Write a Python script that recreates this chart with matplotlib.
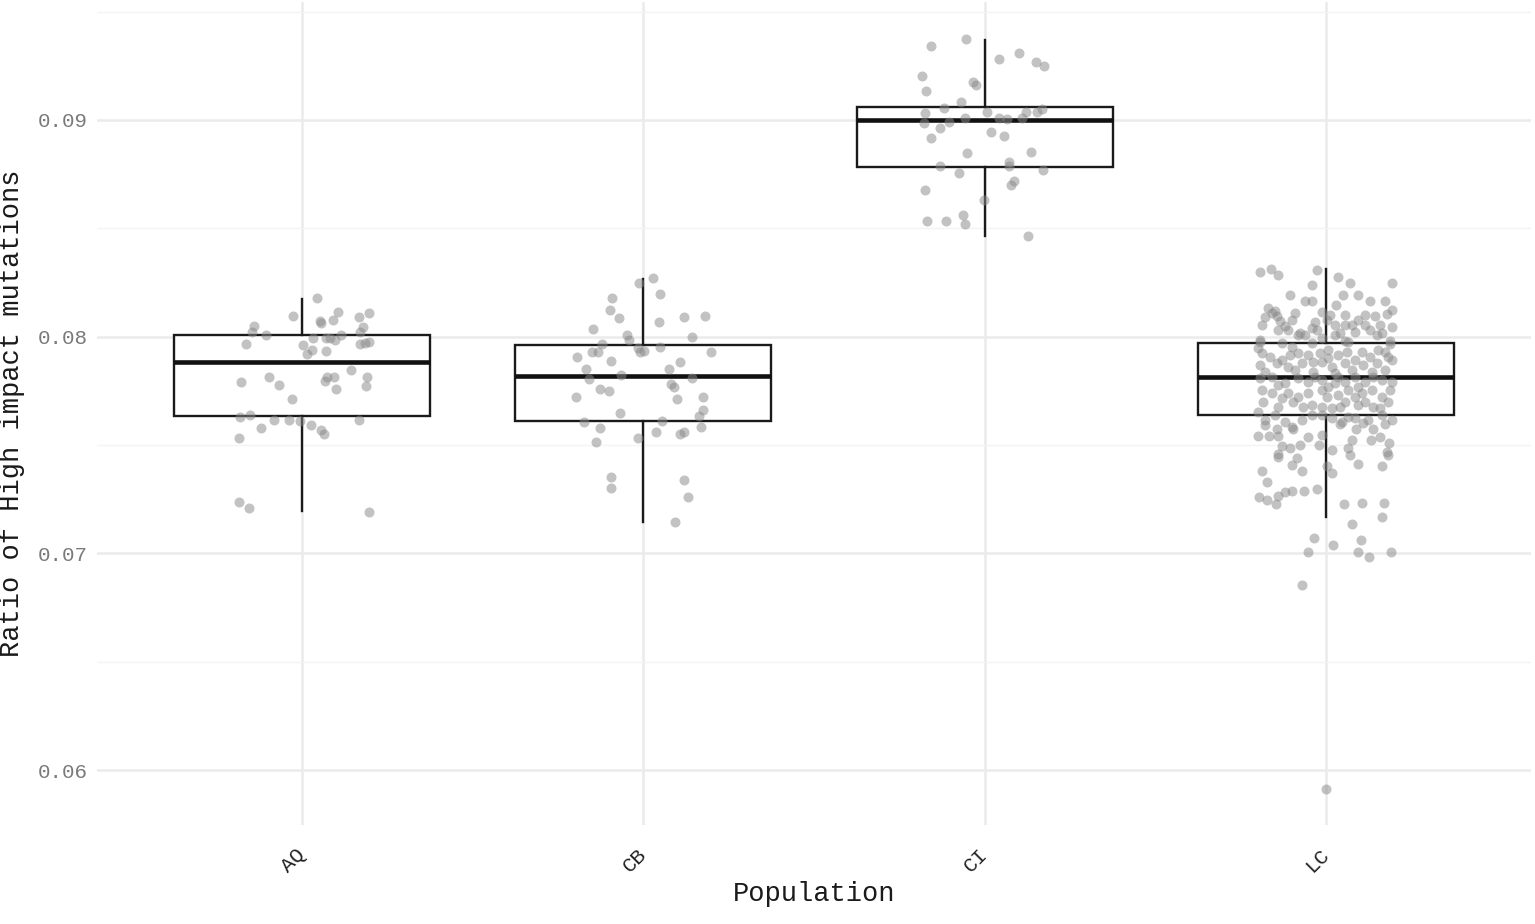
import matplotlib
matplotlib.use('Agg')
import matplotlib.pyplot as plt

# populations and the box summaries
populations = ['AQ', 'CB', 'CI', 'LC']
box_low = [0.07196, 0.07145, 0.08465, 0.07168]
box_q1 = [0.07635, 0.07611, 0.08785, 0.07639]
box_med = [0.07883, 0.07819, 0.09000, 0.07814]
box_q3 = [0.08008, 0.07962, 0.09061, 0.07971]
box_high = [0.08174, 0.08266, 0.09369, 0.08312]

# individual samples (ratio) and their horizontal jitter
aq_values = [0.08177, 0.08096, 0.08072, 0.08065, 0.08078, 0.08115, 0.08090, 0.08111, 0.08046, 0.08023,
             0.08048, 0.08023, 0.08008, 0.07966, 0.07995, 0.07993, 0.07993, 0.07985, 0.08008, 0.07960,
             0.07937, 0.07920, 0.07935, 0.07965, 0.07970, 0.07974, 0.07791, 0.07815, 0.07777, 0.07794,
             0.07815, 0.07815, 0.07760, 0.07845, 0.07813, 0.07774, 0.07713, 0.07631, 0.07639, 0.07580,
             0.07616, 0.07616, 0.07611, 0.07593, 0.07568, 0.07550, 0.07616, 0.07531, 0.07237, 0.07211, 0.07192]
aq_jitter = [0.045, -0.027, 0.053, 0.055, 0.091, 0.105, 0.167, 0.197, 0.178, 0.170,
             -0.141, -0.147, -0.106, -0.165, 0.033, 0.070, 0.082, 0.097, 0.114, 0.003,
             0.030, 0.016, 0.071, 0.170, 0.185, 0.196, -0.179, -0.097, -0.067, 0.067,
             0.072, 0.094, 0.100, 0.144, 0.190, 0.187, -0.030, -0.182, -0.152, -0.119,
             -0.081, -0.038, -0.006, 0.026, 0.055, 0.065, 0.166, -0.184, -0.184, -0.155, 0.197]

cb_values = [0.08246, 0.08269, 0.08196, 0.08180, 0.08123, 0.08085, 0.08069, 0.08092, 0.08097, 0.08034,
             0.08008, 0.07985, 0.08000, 0.07966, 0.07905, 0.07928, 0.07928, 0.07946, 0.07928, 0.07934,
             0.07954, 0.07928, 0.07888, 0.07883, 0.07851, 0.07803, 0.07823, 0.07851, 0.07808, 0.07782,
             0.07769, 0.07759, 0.07749, 0.07723, 0.07713, 0.07722, 0.07646, 0.07660, 0.07635, 0.07605,
             0.07580, 0.07611, 0.07583, 0.07531, 0.07562, 0.07551, 0.07562, 0.07513, 0.07353, 0.07300,
             0.07339, 0.07262, 0.07144]
cb_jitter = [-0.012, 0.027, 0.050, -0.092, -0.097, -0.070, 0.045, 0.120, 0.180, -0.146,
             -0.047, -0.043, 0.143, -0.121, -0.194, -0.149, -0.133, -0.017, -0.009, 0.003,
             0.050, 0.198, -0.095, 0.106, -0.168, -0.158, -0.064, 0.076, 0.144, 0.082,
             0.089, -0.128, -0.102, -0.197, 0.100, 0.174, -0.067, 0.174, 0.162, -0.174,
             -0.126, 0.055, 0.168, -0.016, 0.038, 0.108, 0.118, -0.138, -0.095, -0.095,
             0.118, 0.131, 0.092]

ci_values = [0.09372, 0.09341, 0.09280, 0.09311, 0.09269, 0.09249, 0.09204, 0.09135, 0.09177, 0.09163,
             0.09084, 0.09057, 0.09031, 0.08985, 0.08962, 0.08989, 0.09008, 0.09038, 0.09008, 0.09003,
             0.09008, 0.09038, 0.09038, 0.09051, 0.08916, 0.08943, 0.08926, 0.08849, 0.08851, 0.08789,
             0.08754, 0.08808, 0.08788, 0.08769, 0.08718, 0.08700, 0.08677, 0.08631, 0.08562, 0.08520,
             0.08535, 0.08535, 0.08465]
ci_jitter = [-0.054, -0.156, 0.042, 0.100, 0.149, 0.174, -0.184, -0.171, -0.034, -0.026,
             -0.070, -0.119, -0.174, -0.178, -0.132, -0.105, -0.059, 0.008, 0.041, 0.064,
             0.109, 0.122, 0.154, 0.169, -0.156, 0.020, 0.056, -0.051, 0.135, -0.132,
             -0.076, 0.071, 0.071, 0.171, 0.086, 0.076, -0.174, -0.003, -0.064, -0.059,
             -0.168, -0.112, 0.127]

lc_values = [
    # upper whisker region
    0.08299, 0.08314, 0.08283, 0.08307, 0.08274, 0.08248, 0.08248, 0.08240, 0.08194, 0.08166,
    0.08166, 0.08191, 0.08194, 0.08163, 0.08166, 0.08132, 0.08117, 0.08094, 0.08090, 0.08109,
    0.08078, 0.08114, 0.08145, 0.08099, 0.08102, 0.08125, 0.08105, 0.08094, 0.08078, 0.08055,
    0.08032, 0.08032, 0.08009, 0.08068, 0.08032, 0.08102, 0.08055, 0.08017, 0.08055, 0.08022,
    0.08032, 0.08055, 0.08043, 0.07986, 0.08006, 0.07979, 0.08009, 0.07979, 0.07994,
    0.08109, 0.08071, 0.08078, 0.08017, 0.08048, 0.08040, 0.08055, 0.08055, 0.08017, 0.08009,
    # inside the box
    0.07977, 0.07970, 0.07970, 0.07977, 0.07966,
    0.07923, 0.07908, 0.07916, 0.07923, 0.07916, 0.07923, 0.07939, 0.07916, 0.07931, 0.07931,
    0.07908, 0.07939, 0.07908,
    0.07869, 0.07877, 0.07862, 0.07877, 0.07885, 0.07862, 0.07877, 0.07846, 0.07869, 0.07877,
    0.07893, 0.07838, 0.07846, 0.07838, 0.07834, 0.07838,
    0.07815, 0.07785, 0.07808, 0.07800, 0.07769, 0.07792, 0.07815, 0.07792, 0.07800, 0.07792, 0.07792,
    0.07754, 0.07739, 0.07739, 0.07723, 0.07739, 0.07754, 0.07731, 0.07754, 0.07739, 0.07754,
    0.07754, 0.07723,
    0.07700, 0.07677, 0.07700, 0.07685, 0.07677, 0.07670, 0.07700, 0.07685, 0.07677, 0.07700, 0.07700,
    0.07616, 0.07639, 0.07608, 0.07616, 0.07639, 0.07624, 0.07608, 0.07624, 0.07616, 0.07639,
    0.07616, 0.07582,
    0.07946, 0.07954, 0.07900, 0.07931, 0.07893, 0.07885, 0.07893, 0.07846, 0.07808, 0.07815,
    0.07815, 0.07815, 0.07777, 0.07785, 0.07769, 0.07716, 0.07723, 0.07723, 0.07677, 0.07677,
    0.07670, 0.07654, 0.07639, 0.07631,
    # lower whisker region
    0.07542, 0.07542, 0.07542, 0.07591, 0.07573, 0.07573, 0.07537, 0.07545, 0.07502, 0.07502,
    0.07496, 0.07486, 0.07460, 0.07445, 0.07440, 0.07407, 0.07379, 0.07382, 0.07330, 0.07476,
    0.07403, 0.07370, 0.07486, 0.07453, 0.07522, 0.07414, 0.07576, 0.07576, 0.07522, 0.07537,
    0.07511, 0.07468, 0.07453, 0.07402, 0.07599, 0.07603, 0.07599,
    0.07260, 0.07245, 0.07229, 0.07265, 0.07283, 0.07288, 0.07288, 0.07296, 0.07229, 0.07234, 0.07234,
    0.07167, 0.07136, 0.07071, 0.07040, 0.07062, 0.07008, 0.07005, 0.06985, 0.07007, 0.06854, 0.05913]
lc_jitter = [
    -0.193, -0.161, -0.140, -0.027, 0.034, 0.070, 0.192, -0.042, -0.105, -0.062,
    -0.042, 0.051, 0.093, 0.129, 0.173, -0.171, -0.149, -0.144, -0.179, -0.091,
    -0.100, -0.013, 0.028, 0.056, 0.114, 0.194, 0.178, 0.144, 0.095, -0.187,
    -0.140, -0.110, -0.062, -0.032, -0.027, 0.012, 0.026, 0.041, 0.075, 0.085,
    0.129, 0.158, 0.192, -0.193, -0.081, 0.188, 0.149, 0.056, -0.013,
    -0.159, -0.135, 0.002, 0.163, -0.120, -0.042, 0.056, 0.114, -0.076, 0.026,
    -0.193, -0.130, -0.042, 0.065, 0.188,
    -0.188, -0.164, -0.105, -0.081, -0.052, -0.018, 0.007, 0.036, 0.061, 0.105,
    0.129, 0.153, 0.183,
    -0.193, -0.144, -0.110, -0.071, -0.013, 0.017, 0.056, 0.075, 0.109, 0.149,
    0.192, -0.179, -0.091, -0.037, 0.026, 0.134,
    -0.159, -0.120, -0.081, -0.013, 0.007, 0.056, 0.085, 0.114, 0.163, 0.192, -0.052,
    -0.188, -0.159, -0.110, -0.081, -0.052, -0.013, 0.036, 0.065, 0.105, 0.134,
    0.188, 0.163,
    -0.184, -0.140, -0.096, -0.042, -0.013, 0.017, 0.056, 0.095, 0.139, 0.183, 0.114,
    -0.179, -0.149, -0.120, -0.071, -0.042, 0.017, 0.046, 0.085, 0.124, 0.163,
    0.192, -0.100,
    -0.198, -0.100, 0.007, 0.173, -0.130, -0.037, 0.085, 0.173, -0.193, -0.032,
    0.036, 0.139, -0.140, 0.026, 0.095, -0.130, 0.002, 0.085, -0.066, 0.041,
    0.158, -0.198, -0.013, 0.065,
    -0.198, -0.167, -0.140, -0.179, -0.144, -0.096, -0.052, -0.011, -0.021, -0.076,
    -0.130, -0.105, -0.140, -0.142, -0.086, -0.100, -0.071, -0.187, -0.174, 0.017,
    0.002, 0.018, 0.064, 0.070, 0.077, 0.095, 0.087, 0.139, 0.132, 0.158,
    0.185, 0.178, 0.181, 0.165, 0.173, 0.109, 0.041,
    -0.196, -0.174, -0.147, -0.140, -0.120, -0.100, -0.064, -0.027, 0.054, 0.106, 0.171,
    0.165, 0.075, -0.034, 0.021, 0.103, -0.052, 0.095, 0.126, 0.190, -0.069, 0.0]

samples = [(aq_values, aq_jitter), (cb_values, cb_jitter), (ci_values, ci_jitter), (lc_values, lc_jitter)]

plt.rcParams['font.family'] = ['Liberation Mono', 'DejaVu Sans Mono']

fig = plt.figure(figsize=(15.35, 9.24), dpi=100)
ax = fig.add_axes([97.2 / 1535, 1 - 825 / 924, 1433.6 / 1535, 823 / 924])

positions = list(range(1, len(populations) + 1))

# boxes from the summary numbers
stats = []
for i in range(len(populations)):
    stats.append({'whislo': box_low[i], 'q1': box_q1[i], 'med': box_med[i],
                  'q3': box_q3[i], 'whishi': box_high[i], 'fliers': []})
ax.bxp(stats, positions=positions, widths=0.75, showfliers=False, showcaps=False,
       patch_artist=True,
       boxprops=dict(facecolor='white', edgecolor='#1a1a1a', linewidth=1.7),
       medianprops=dict(color='#111111', linewidth=3.3),
       whiskerprops=dict(color='#1a1a1a', linewidth=1.7),
       zorder=2)

# jittered points on top
for pos, (vals, jit) in zip(positions, samples):
    xs = [pos + j for j in jit]
    ax.scatter(xs, vals, s=52, color='#8a8a8a', alpha=0.52, linewidths=0, zorder=3)

ax.set_xlim(0.4, 4.6)
ax.set_ylim(0.057467, 0.095445)
ax.set_yticks([0.06, 0.07, 0.08, 0.09])
ax.set_yticklabels(['0.06', '0.07', '0.08', '0.09'])
ax.set_yticks([0.065, 0.075, 0.085, 0.095], minor=True)
ax.set_xticks(positions)
ax.set_xticklabels(populations, rotation=45, ha='right', va='center', rotation_mode='anchor')

ax.grid(True, which='major', color='#ebebeb', linewidth=1.8, zorder=0)
ax.grid(True, which='minor', axis='y', color='#f4f4f4', linewidth=1.0, zorder=0)
ax.set_axisbelow(True)
for side in ax.spines.values():
    side.set_visible(False)
ax.tick_params(axis='both', which='both', length=0)
ax.tick_params(axis='y', labelsize=15, labelcolor='#7a7a7a', pad=7)
ax.tick_params(axis='x', labelsize=15, labelcolor='#222222', pad=19)

ax.set_xlabel('Population', fontsize=19.5, color='#1a1a1a', labelpad=4)
ax.set_ylabel('Ratio of High impact mutations', fontsize=19.5, color='#1a1a1a')
ax.yaxis.set_label_coords(-0.0505, 0.5)

fig.savefig('out.png', dpi=100)
